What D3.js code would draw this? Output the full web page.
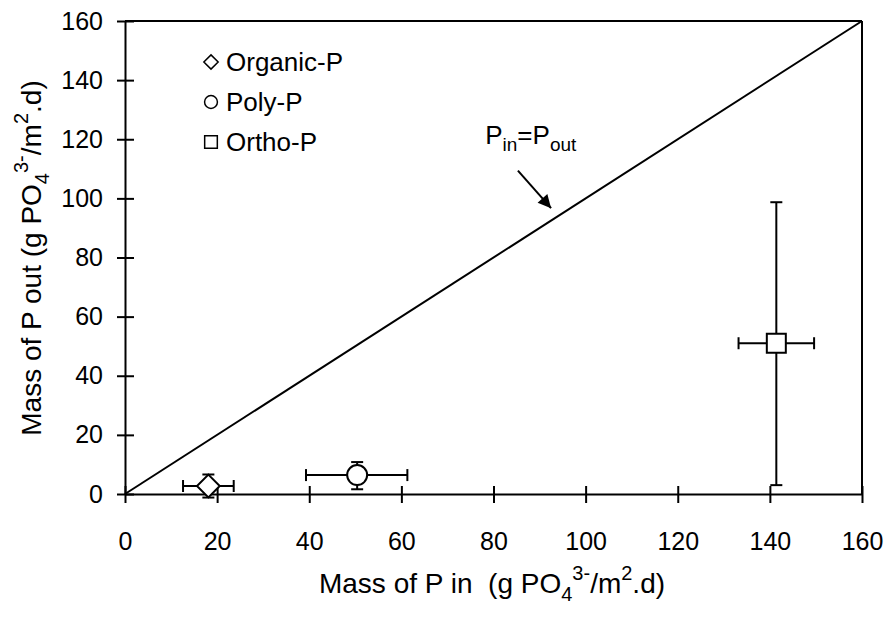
<!DOCTYPE html>
<html>
<head>
<meta charset="utf-8">
<script src="https://cdn.jsdelivr.net/npm/d3@7"></script>
<style>
  body { margin: 0; background: #fff; }
  text { font-family: "Liberation Sans", Arial, sans-serif; fill: #000; white-space: pre; }
</style>
</head>
<body>
<script>
// P mass balance: mass in vs mass out

var width  = 889,
    height = 618;

var margin = {left: 125, right: 27, top: 21, bottom: 124};

var series   = ["Organic-P", "Poly-P", "Ortho-P"];
var symbols  = ["diamond", "circle", "square"];
var massIn   = [18.1, 50.4, 141.4];
var massOut  = [2.7, 6.4, 51.0];
var inLow    = [12.6, 39.3, 133.2];
var inHigh   = [23.6, 61.3, 149.6];
var outLow   = [-1.2, 1.6, 3.0];
var outHigh  = [6.6, 10.8, 98.7];
var ticks    = [0, 20, 40, 60, 80, 100, 120, 140, 160];

var svg = d3.select("body").append("svg")
    .attr("width", width)
    .attr("height", height);

var x = d3.scaleLinear().domain([0, 160]).range([margin.left, width - margin.right]);
var y = d3.scaleLinear().domain([0, 160]).range([height - margin.bottom, margin.top]);

// frame top and right
svg.append("line")
    .attr("x1", x(0)).attr("x2", x(160))
    .attr("y1", y(160)).attr("y2", y(160))
    .attr("stroke", "#000").attr("stroke-width", 2);
svg.append("line")
    .attr("x1", x(160)).attr("x2", x(160))
    .attr("y1", y(0)).attr("y2", y(160))
    .attr("stroke", "#000").attr("stroke-width", 2);

// axes, ticks cross the line
var xAxis = svg.append("g")
    .attr("transform", "translate(0," + y(0) + ")")
    .call(d3.axisBottom(x).tickValues(ticks).tickSize(0).tickPadding(38));
xAxis.selectAll(".tick").append("line")
    .attr("y1", -8).attr("y2", 9)
    .attr("stroke", "#000").attr("stroke-width", 2);

var yAxis = svg.append("g")
    .attr("transform", "translate(" + x(0) + ",0)")
    .call(d3.axisLeft(y).tickValues(ticks).tickSize(0).tickPadding(22));
yAxis.selectAll(".tick").append("line")
    .attr("x1", -8).attr("x2", 9)
    .attr("stroke", "#000").attr("stroke-width", 2);

svg.selectAll(".domain").attr("stroke", "#000").attr("stroke-width", 2);
svg.selectAll(".tick text").style("font-size", "25px")
    .attr("font-family", "Liberation Sans, Arial, sans-serif");

// 1:1 line
svg.append("line")
    .attr("x1", x(0)).attr("y1", y(0))
    .attr("x2", x(160)).attr("y2", y(160))
    .attr("stroke", "#000").attr("stroke-width", 2);

// annotation
var lab = svg.append("text")
    .attr("x", x(78.2)).attr("y", y(118.4))
    .style("font-size", "26px");
lab.append("tspan").text("P");
lab.append("tspan").attr("dy", 7).style("font-size", "19px").text("in");
lab.append("tspan").attr("dy", -7).text("=P");
lab.append("tspan").attr("dy", 7).style("font-size", "19px").text("out");

svg.append("defs").append("marker")
    .attr("id", "arrow")
    .attr("viewBox", "0 0 10 10")
    .attr("refX", 10).attr("refY", 5)
    .attr("markerWidth", 16).attr("markerHeight", 13)
    .attr("markerUnits", "userSpaceOnUse")
    .attr("orient", "auto")
    .append("path").attr("d", "M0,0L10,5L0,10z").attr("fill", "#000");

svg.append("line")
    .attr("x1", x(85.3)).attr("y1", y(109.4))
    .attr("x2", x(92.5)).attr("y2", y(96.7))
    .attr("stroke", "#000").attr("stroke-width", 2)
    .attr("marker-end", "url(#arrow)");

// error bars
var cap = 6;
series.forEach(function(s, i) {
  var g = svg.append("g").attr("stroke", "#000").attr("stroke-width", 2);
  g.append("line").attr("x1", x(inLow[i])).attr("x2", x(inHigh[i]))
      .attr("y1", y(massOut[i])).attr("y2", y(massOut[i]));
  g.append("line").attr("x1", x(inLow[i])).attr("x2", x(inLow[i]))
      .attr("y1", y(massOut[i]) - cap).attr("y2", y(massOut[i]) + cap);
  g.append("line").attr("x1", x(inHigh[i])).attr("x2", x(inHigh[i]))
      .attr("y1", y(massOut[i]) - cap).attr("y2", y(massOut[i]) + cap);
  g.append("line").attr("x1", x(massIn[i])).attr("x2", x(massIn[i]))
      .attr("y1", y(outLow[i])).attr("y2", y(outHigh[i]));
  g.append("line").attr("x1", x(massIn[i]) - cap).attr("x2", x(massIn[i]) + cap)
      .attr("y1", y(outLow[i])).attr("y2", y(outLow[i]));
  g.append("line").attr("x1", x(massIn[i]) - cap).attr("x2", x(massIn[i]) + cap)
      .attr("y1", y(outHigh[i])).attr("y2", y(outHigh[i]));
});

var symType = {diamond: d3.symbolDiamond2, circle: d3.symbolCircle, square: d3.symbolSquare};
var symSize = {diamond: 330, circle: 314, square: 361};

svg.selectAll("path.pt")
  .data(series)
  .enter().append("path")
    .attr("class", "pt")
    .attr("transform", function(d, i) { return "translate(" + x(massIn[i]) + "," + y(massOut[i]) + ")"; })
    .attr("d", function(d, i) { return d3.symbol().type(symType[symbols[i]]).size(symSize[symbols[i]])(); })
    .attr("fill", "#fff").attr("stroke", "#000").attr("stroke-width", 2);

// legend
var legSize = {diamond: 130, circle: 130, square: 160};
var leg = svg.selectAll("g.leg")
  .data(series)
  .enter().append("g")
    .attr("class", "leg")
    .attr("transform", function(d, i) { return "translate(211," + (62 + i * 40) + ")"; });
leg.append("path")
    .attr("d", function(d, i) { return d3.symbol().type(symType[symbols[i]]).size(legSize[symbols[i]])(); })
    .attr("fill", "#fff").attr("stroke", "#000").attr("stroke-width", 1.5);
leg.append("text")
    .attr("x", 15).attr("y", 9)
    .style("font-size", "26px")
    .text(function(d) { return d; });

// axis titles
var xt = svg.append("text")
    .attr("x", 492).attr("y", 593)
    .attr("text-anchor", "middle")
    .style("font-size", "28px");
xt.append("tspan").text("Mass of P in  (g PO");
xt.append("tspan").attr("dy", 8).style("font-size", "20px").text("4");
xt.append("tspan").attr("dy", -21).style("font-size", "20px").text("3-");
xt.append("tspan").attr("dy", 13).text("/m");
xt.append("tspan").attr("dy", -13).style("font-size", "20px").text("2");
xt.append("tspan").attr("dy", 13).text(".d)");

var yt = svg.append("text")
    .attr("transform", "translate(41,258) rotate(-90)")
    .attr("text-anchor", "middle")
    .style("font-size", "28px");
yt.append("tspan").text("Mass of P out (g PO");
yt.append("tspan").attr("dy", 8).style("font-size", "20px").text("4");
yt.append("tspan").attr("dy", -21).style("font-size", "20px").text("3-");
yt.append("tspan").attr("dy", 13).text("/m");
yt.append("tspan").attr("dy", -13).style("font-size", "20px").text("2");
yt.append("tspan").attr("dy", 13).text(".d)");
</script>
</body>
</html>
